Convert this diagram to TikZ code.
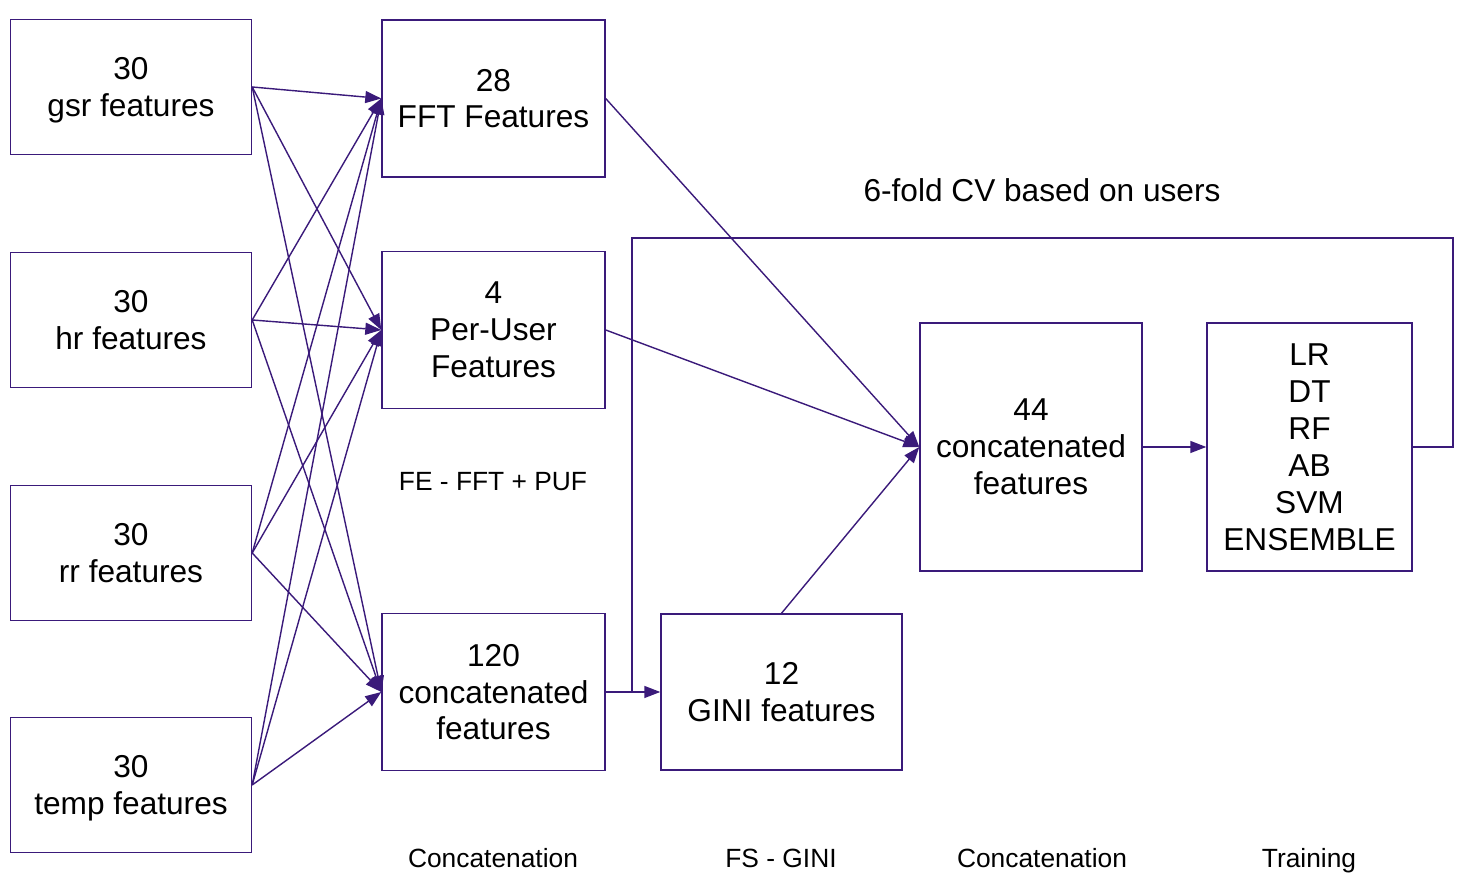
\documentclass[tikz,border=0pt]{standalone}
\usepackage{fontspec}
\setmainfont{Liberation Sans}
\usepackage{tikz}
\usetikzlibrary{arrows.meta}
\definecolor{flowcol}{RGB}{58,26,122}
\tikzset{
  featbox/.style={draw=flowcol, line width=0.8pt, align=center, inner sep=0pt,
    text depth=0pt, font=\fontsize{18}{21}\selectfont},
  flow/.style={draw=flowcol, line width=0.8pt, -{Triangle[length=3.2mm,width=2.4mm]}},
  plain/.style={draw=flowcol, line width=0.8pt},
  steplabel/.style={font=\fontsize{15}{18}\selectfont, text height=1.6ex, text depth=0.4ex},
}

\begin{document}
\begin{tikzpicture}
  \useasboundingbox (0,0) rectangle (29.52,17.88);
  % raw signal features
  \node[featbox, minimum width=4.82cm, minimum height=2.7cm] (gsr) at (2.62,16.14) {30\\gsr features};
  \node[featbox, minimum width=4.82cm, minimum height=2.7cm] (hr) at (2.62,11.48) {30\\hr features};
  \node[featbox, minimum width=4.82cm, minimum height=2.7cm] (rr) at (2.62,6.82) {30\\rr features};
  \node[featbox, minimum width=4.82cm, minimum height=2.7cm] (temp) at (2.62,2.18) {30\\temp features};
  % extracted features
  \node[featbox, minimum width=4.46cm, minimum height=3.14cm] (fft) at (9.87,15.91) {28\\FFT Features};
  \node[featbox, minimum width=4.46cm, minimum height=3.14cm] (puf) at (9.87,11.28) {4\\Per-User\\Features};
  \node[featbox, minimum width=4.46cm, minimum height=3.14cm] (cat120) at (9.87,4.04) {120\\concatenated\\features};
  \node[featbox, minimum width=4.82cm, minimum height=3.12cm] (gini) at (15.63,4.04) {12\\GINI features};
  \node[featbox, minimum width=4.44cm, minimum height=4.96cm] (cat44) at (20.62,8.94) {44\\concatenated\\features};
  \node[featbox, minimum width=4.1cm, minimum height=4.96cm] (models) at (26.19,8.94) {LR\\DT\\RF\\AB\\SVM\\ENSEMBLE};

  % labels
  \node[font=\fontsize{18}{21}\selectfont] (cvlabel) at (20.84,14.08) {6-fold CV based on users};
  \node[steplabel] (felabel) at (9.86,8.18) {FE - FFT + PUF};
  \node[steplabel] (step1) at (9.86,0.64) {Concatenation};
  \node[steplabel] (step2) at (15.62,0.64) {FS - GINI};
  \node[steplabel] (step3) at (20.84,0.64) {Concatenation};
  \node[steplabel] (step4) at (26.18,0.64) {Training};

  % every signal goes to every extracted group
  \draw[flow] (gsr.east) -- (fft.west);
  \draw[flow] (gsr.east) -- (puf.west);
  \draw[flow] (gsr.east) -- (cat120.west);
  \draw[flow] (hr.east) -- (fft.west);
  \draw[flow] (hr.east) -- (puf.west);
  \draw[flow] (hr.east) -- (cat120.west);
  \draw[flow] (rr.east) -- (fft.west);
  \draw[flow] (rr.east) -- (puf.west);
  \draw[flow] (rr.east) -- (cat120.west);
  \draw[flow] (temp.east) -- (fft.west);
  \draw[flow] (temp.east) -- (puf.west);
  \draw[flow] (temp.east) -- (cat120.west);

  % selection and training
  \draw[flow] (cat120.east) -- (gini.west);
  \draw[flow] (fft.east) -- (cat44.west);
  \draw[flow] (puf.east) -- (cat44.west);
  \draw[flow] (gini.north) -- (cat44.west);
  \draw[flow] (cat44.east) -- (models.west);

  % cross-validation loop
  \coordinate (cvin) at (12.64,4.04);
  \coordinate (cvcorner) at (29.06,13.12);
  \draw[plain] (models.east) -| (cvcorner) -| (cvin);
\end{tikzpicture}
\end{document}
